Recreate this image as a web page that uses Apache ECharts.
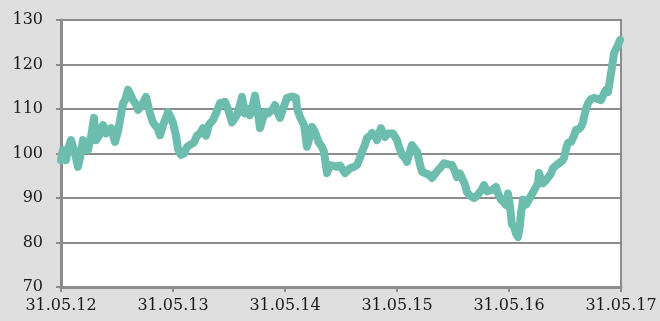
<!DOCTYPE html>
<html>
<head>
<meta charset="utf-8">
<script src="https://cdn.jsdelivr.net/npm/echarts@6/dist/echarts.min.js"></script>
<style>
html, body { margin: 0; padding: 0; background: #dedede; }
#chart { width: 660px; height: 321px; }
</style>
</head>
<body>
<div id="chart"></div>
<script>
// positions in pixels (x=61 is 31.05.12, 112 px per year)
const xPix = [
    61, 63, 66, 68, 71, 75, 78, 80, 83, 86, 88, 91, 94, 96, 99, 103, 106, 108, 111, 115,
    118, 120, 123, 125, 128, 131, 133, 136, 138, 141, 143, 146, 150, 153, 155, 158, 160, 163, 166, 168,
    171, 173, 176, 178, 181, 184, 187, 190, 194, 197, 200, 203, 206, 209, 213, 216, 220, 225, 228, 232,
    235, 237, 240, 242, 245, 248, 250, 253, 255, 258, 260, 263, 265, 268, 270, 273, 275, 278, 280, 283,
    287, 290, 293, 296, 297, 300, 304, 307, 310, 312, 315, 319, 322, 324, 327, 330, 334, 337, 340, 342,
    345, 348, 350, 354, 357, 360, 362, 365, 367, 370, 372, 375, 377, 379, 381, 383, 385, 388, 390, 393,
    395, 397, 399, 402, 405, 407, 410, 412, 415, 417, 420, 422, 426, 429, 432, 434, 437, 441, 444, 446,
    449, 452, 455, 457, 460, 462, 465, 467, 470, 474, 477, 479, 482, 484, 487, 489, 492, 496, 498, 501,
    504, 506, 508, 510, 512, 514, 516, 518, 520, 521, 523, 526, 528, 531, 533, 536, 538, 539, 541, 543,
    546, 548, 551, 553, 556, 559, 562, 564, 566, 568, 571, 574, 576, 579, 581, 583, 584, 586, 588, 591,
    594, 597, 601, 604, 606, 608, 610, 612, 614, 616, 618, 620
];
const values = [
    98.5, 100.8, 98.5, 101, 103, 100, 97, 99, 103, 101.5, 100.8, 103.7, 108, 103, 104, 106.4, 104.5, 105.3, 105.7, 102.6,
    105, 107.5, 111.3, 112, 114.3, 113, 112, 111, 109.8, 110.5, 110.5, 112.7, 109, 107, 106.9, 105.5, 104.1, 106.4, 108, 109.3,
    108, 106.9, 104, 101, 99.7, 100, 101.5, 101.9, 102.5, 104, 104.5, 105.7, 104, 106.5, 107.5, 109, 111.3, 111.6, 110, 107,
    108, 108.7, 111, 112.7, 109, 110, 108.6, 111, 113, 109, 105.7, 108, 109.3, 109, 108.6, 110, 110.9, 109, 108, 110,
    112.5, 112.7, 112.8, 112.5, 110.2, 108.2, 106.4, 101.5, 104, 106, 104.8, 102.4, 101.5, 100.4, 95.6, 97.4, 97.2, 97, 97.3, 97.6,
    95.6, 96.2, 96.7, 97, 97.4, 99, 100.4, 102, 103.5, 104, 104.6, 104, 103, 104.5, 105.7, 104.5, 103.7, 104.5, 104.8, 104.5,
    104.1, 103, 101.5, 99.7, 99, 98.1, 100.5, 101.9, 101, 100.4, 97.5, 95.9, 95.5, 95.2, 94.5, 94.7, 96, 97, 97.8, 98.1,
    97.5, 97.4, 96, 94.7, 95.5, 95.6, 93, 91.3, 90.5, 90, 90.5, 90.7, 92, 92.9, 91.5, 91.1, 91.8, 92.5, 91, 89.6,
    89, 88.4, 91, 88, 84, 83.5, 82, 81.2, 84, 86.6, 89.6, 88.5, 88.4, 90.5, 91.3, 92.5, 93.3, 95.6, 94, 93.3,
    94, 94.4, 95.5, 96.7, 97.3, 97.8, 98.3, 99, 101, 102.4, 102.6, 104, 105.3, 105.5, 106, 107, 108.2, 110, 111.3, 112.2,
    112.5, 112.3, 112, 113.5, 114.3, 113.8, 113.6, 119.4, 122.5, 123.5, 124.4, 125.5
];
const xLabels = ['31.05.12', '31.05.13', '31.05.14', '31.05.15', '31.05.16', '31.05.17'];

let myChart = echarts.init(document.getElementById('chart'));

let points = xPix.map((x, i) => [(x - 61) / 112, values[i]]);

let axisFont = {
    fontFamily: 'DejaVu Serif',
    fontSize: 16,
    color: '#1a1a1a',
};

let option = {
    backgroundColor: '#dedede',
    animation: false,
    grid: {
        left: 61,
        right: 39,
        top: 20,
        bottom: 34,
        show: true,
        backgroundColor: '#ffffff',
        borderColor: '#8c8c8c',
        borderWidth: 2,
    },
    xAxis: {
        type: 'value',
        min: 0,
        max: 5,
        interval: 1,
        axisLine: { lineStyle: { color: '#8c8c8c', width: 3 } },
        axisTick: { show: true, length: 5, lineStyle: { color: '#8c8c8c', width: 2 } },
        splitLine: { show: false },
        axisLabel: {
            ...axisFont,
            margin: 11,
            formatter: v => xLabels[Math.round(v)],
        },
    },
    yAxis: {
        type: 'value',
        min: 70,
        max: 130,
        interval: 10,
        axisLine: { show: true, lineStyle: { color: '#8c8c8c', width: 3 } },
        axisTick: { show: true, length: 5, lineStyle: { color: '#8c8c8c', width: 2 } },
        splitLine: { show: true, lineStyle: { color: '#8c8c8c', width: 2 } },
        axisLabel: {
            ...axisFont,
            margin: 18,
        },
    },
    series: [
        {
            type: 'line',
            data: points,
            showSymbol: false,
            smooth: false,
            lineStyle: {
                color: '#6cbdae',
                width: 8,
                cap: 'round',
                join: 'round',
            },
        },
    ],
};

myChart.setOption(option);
</script>
</body>
</html>
